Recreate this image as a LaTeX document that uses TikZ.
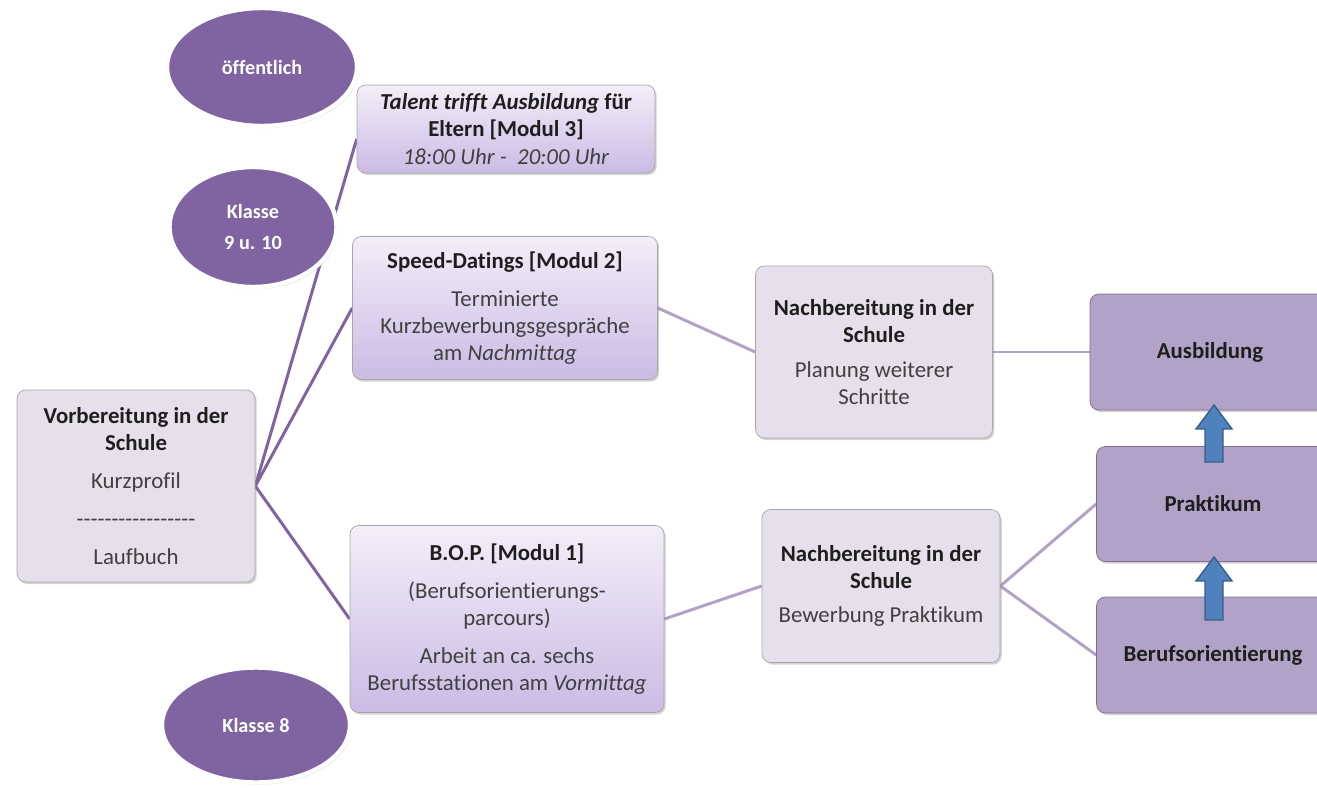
\documentclass[tikz,border=0pt]{standalone}
\usepackage{fontspec}
\setmainfont[Ligatures={TeX,NoCommon}]{Carlito}
\usepackage{tikz}
\usetikzlibrary{shapes.geometric,shadows,backgrounds}
\usepackage{xcolor}
\definecolor{purp}{HTML}{8064A2}
\definecolor{lav}{HTML}{E6E0EC}
\definecolor{dlav}{HTML}{B3A2C7}
\definecolor{gtop}{HTML}{F3EEF9}
\definecolor{gbot}{HTML}{CCBAE4}
\definecolor{subgrey}{HTML}{404040}
\definecolor{ttlgrey}{HTML}{1E1E1E}
\definecolor{arrblue}{HTML}{4F81BD}
\definecolor{arrline}{HTML}{385D8A}
\newcommand{\ttl}[1]{\textbf{\textcolor{ttlgrey}{#1}}}

\begin{document}
\begin{tikzpicture}[x=0.02cm,y=-0.02cm,
  lbox/.style={rounded corners=5pt, draw=gray!70, fill=lav, align=center,
    text=subgrey, font=\fontsize{13}{15.5}\selectfont,
    drop shadow={opacity=0.35, shadow xshift=1pt, shadow yshift=-1.2pt}},
  gbox/.style={lbox, top color=gtop, bottom color=gbot},
  dbox/.style={lbox, fill=dlav, draw=purp!70!gray},
  klasse/.style={ellipse, fill=purp, draw=white, line width=2.5pt, text=white,
    align=center, font=\fontsize{11.5}{13}\selectfont\bfseries,
    drop shadow={opacity=0.3, shadow xshift=1pt, shadow yshift=-1.2pt}},
  con/.style={line width=1.7pt, purp},
  conl/.style={line width=1.7pt, dlav}]
  \clip (0,0) rectangle (1317,787);
  \useasboundingbox (0,0) rectangle (1317,787);

  \node[lbox, minimum width=4.76cm, minimum height=3.84cm] (vor) at (136,486)
    {\ttl{Vorbereitung in der}\\\ttl{Schule}\\[6pt]Kurzprofil\\[6pt]
     -{}-{}-{}-{}-{}-{}-{}-{}-{}-{}-{}-{}-{}-{}-{}-{}-\\[6pt]Laufbuch};
  \node[gbox, minimum width=5.96cm, minimum height=1.76cm] (tal) at (506,129)
    {\ttl{\textit{Talent trifft Ausbildung} für}\\\ttl{Eltern [Modul 3]}\\
     \textit{18:00 Uhr -\ \ 20:00 Uhr}};
  \node[gbox, minimum width=6.1cm, minimum height=2.86cm] (speed) at (505,308)
    {\ttl{Speed-Datings [Modul 2]}\\[6pt]Terminierte\\Kurzbewerbungsgespräche\\
     am \textit{Nachmittag}};
  \node[gbox, minimum width=6.28cm, minimum height=3.74cm] (bop) at (507,619)
    {\ttl{B.O.P. [Modul 1]}\\[6pt](Berufsorientierungs-\\parcours)\\[6pt]
     Arbeit an ca. sechs\\Berufsstationen am \textit{Vormittag}};
  \node[lbox, minimum width=4.74cm, minimum height=3.44cm] (nach1) at (874,352)
    {\ttl{Nachbereitung in der}\\\ttl{Schule}\\[4pt]Planung weiterer\\Schritte};
  \node[lbox, minimum width=4.76cm, minimum height=3.06cm] (nach2) at (881,586)
    {\ttl{Nachbereitung in der}\\\ttl{Schule}\\[4pt]Bewerbung Praktikum};
  \node[dbox, minimum width=4.8cm, minimum height=2.32cm] (aus) at (1210,352)
    {\ttl{Ausbildung}};
  \node[dbox, minimum width=4.66cm, minimum height=2.3cm] (prak) at (1213,504)
    {\ttl{Praktikum}};
  \node[dbox, minimum width=4.66cm, minimum height=2.32cm] (beruf) at (1213,655)
    {\ttl{Berufsorientierung}};

  \node[klasse, minimum width=3.8cm, minimum height=2.36cm] (off) at (262,67)
    {öffentlich};
  \node[klasse, minimum width=3.34cm, minimum height=2.4cm] (k910) at (253,227)
    {Klasse\\[5pt]9 u. 10};
  \node[klasse, minimum width=3.76cm, minimum height=2.3cm] (k8) at (256,725)
    {Klasse 8};

  \begin{scope}[on background layer]
    \draw[con] (vor.east) -- ([yshift=-0.2cm]tal.west);
    \draw[con] (vor.east) -- (speed.west);
    \draw[con] (vor.east) -- (bop.west);
    \draw[conl] (speed.east) -- (nach1.west);
    \draw[conl] (bop.east) -- (nach2.west);
    \draw[conl] (nach1.east) -- (aus.west);
    \draw[conl] (nach2.east) -- (prak.west);
    \draw[conl] (nach2.east) -- (beruf.west);
  \end{scope}

  \foreach \t/\b in {405/462,557/620}
    \draw[fill=arrblue, draw=arrline, line width=0.8pt]
      (1205,\b) -- (1205,\t+24) -- (1196,\t+24) -- (1214,\t)
      -- (1232,\t+24) -- (1223,\t+24) -- (1223,\b) -- cycle;
\end{tikzpicture}
\end{document}
